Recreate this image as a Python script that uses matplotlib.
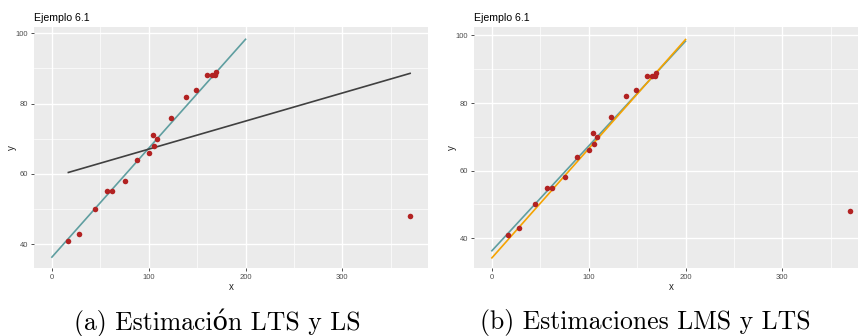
import matplotlib
matplotlib.use("Agg")
import matplotlib.pyplot as plt
import numpy as np

# Data (Ejemplo 6.1)
x = [17, 28, 44, 57, 62, 75, 88, 100, 104, 105, 109, 123, 138, 149, 160, 165, 168, 170, 370]
y = [41, 43, 50, 55, 55, 58, 64, 66, 71, 68, 70, 76, 82, 84, 88, 88, 88, 89, 48]

# Fitted lines (intercept, slope)
lts_coef = (36.3, 0.310)
ls_coef = (59.04, 0.0799)
lms_coef = (34.2, 0.323)
line_x = [0, 200]

xticks = [0, 100, 200, 300]
yticks = [40, 60, 80, 100]

W, H = 858, 336
fig = plt.figure(figsize=(W / 100, H / 100), dpi=100)

PANEL_BG = "#EBEBEB"
TICK_COL = "#4D4D4D"
SANS = "Liberation Sans"


def style(ax, ylim):
    ax.set_facecolor(PANEL_BG)
    for s in ax.spines.values():
        s.set_visible(False)
    ax.set_xlim(-18.5, 388.5)
    ax.set_ylim(*ylim)
    ax.set_xticks(xticks)
    ax.set_yticks(yticks)
    ax.set_xticks([50, 150, 250, 350], minor=True)
    ax.set_yticks([50, 70, 90], minor=True)
    ax.grid(which="major", color="white", linewidth=1.0)
    ax.grid(which="minor", color="white", linewidth=0.5)
    ax.set_axisbelow(True)
    ax.tick_params(which="major", length=2.5, width=0.6, color="#333333",
                   labelsize=5.5, labelcolor=TICK_COL, pad=1.5)
    ax.tick_params(which="minor", length=0)
    for lab in ax.get_xticklabels() + ax.get_yticklabels():
        lab.set_family(SANS)
    ax.set_xlabel("x", fontsize=7, family=SANS, color="#222222")
    ax.set_ylabel("y", fontsize=7, family=SANS, color="#222222")
    ax.xaxis.set_label_coords(0.5, -0.079)
    ax.yaxis.set_label_coords(-0.057, 0.5)
    ax.xaxis.label.set_va("center")
    ax.yaxis.label.set_va("center")
    ax.set_title("Ejemplo 6.1", fontsize=7.6, family=SANS, loc="left", pad=4)


def ab(coef, xs):
    xs = np.asarray(xs, dtype=float)
    return coef[0] + coef[1] * xs


# Left panel
ax1 = fig.add_axes([34 / W, 68 / H, 394 / W, 241 / H])
style(ax1, (33.2, 101.8))
ax1.plot(line_x, ab(lts_coef, line_x), color="#5F9EA0", lw=1.2, zorder=3)
ls_x = [min(x), max(x)]
ax1.plot(ls_x, ab(ls_coef, ls_x), color="#404040", lw=1.2, zorder=3)
ax1.scatter(x, y, s=16, color="#B22222", zorder=4, linewidths=0)

# Right panel
ax2 = fig.add_axes([474 / W, 68 / H, 394 / W, 241 / H])
style(ax2, (31.2, 102.5))
ax2.plot(line_x, ab(lts_coef, line_x), color="#5F9EA0", lw=1.2, zorder=3)
ax2.plot(line_x, ab(lms_coef, line_x), color="#F5A300", lw=1.2, zorder=3)
ax2.scatter(x, y, s=16, color="#B22222", zorder=4, linewidths=0)

# Captions
CAP_FONT = ["cmr10", "DejaVu Serif"]
fig.text(217 / W, 1 - 323 / H, "(a) Estimación LTS y LS", family=CAP_FONT,
         fontsize=18.5, ha="center", va="center")
fig.text(645 / W, 1 - 323 / H, "(b) Estimaciones LMS y LTS", family=CAP_FONT,
         fontsize=18.5, ha="center", va="center")

fig.savefig("out.png", dpi=100)
